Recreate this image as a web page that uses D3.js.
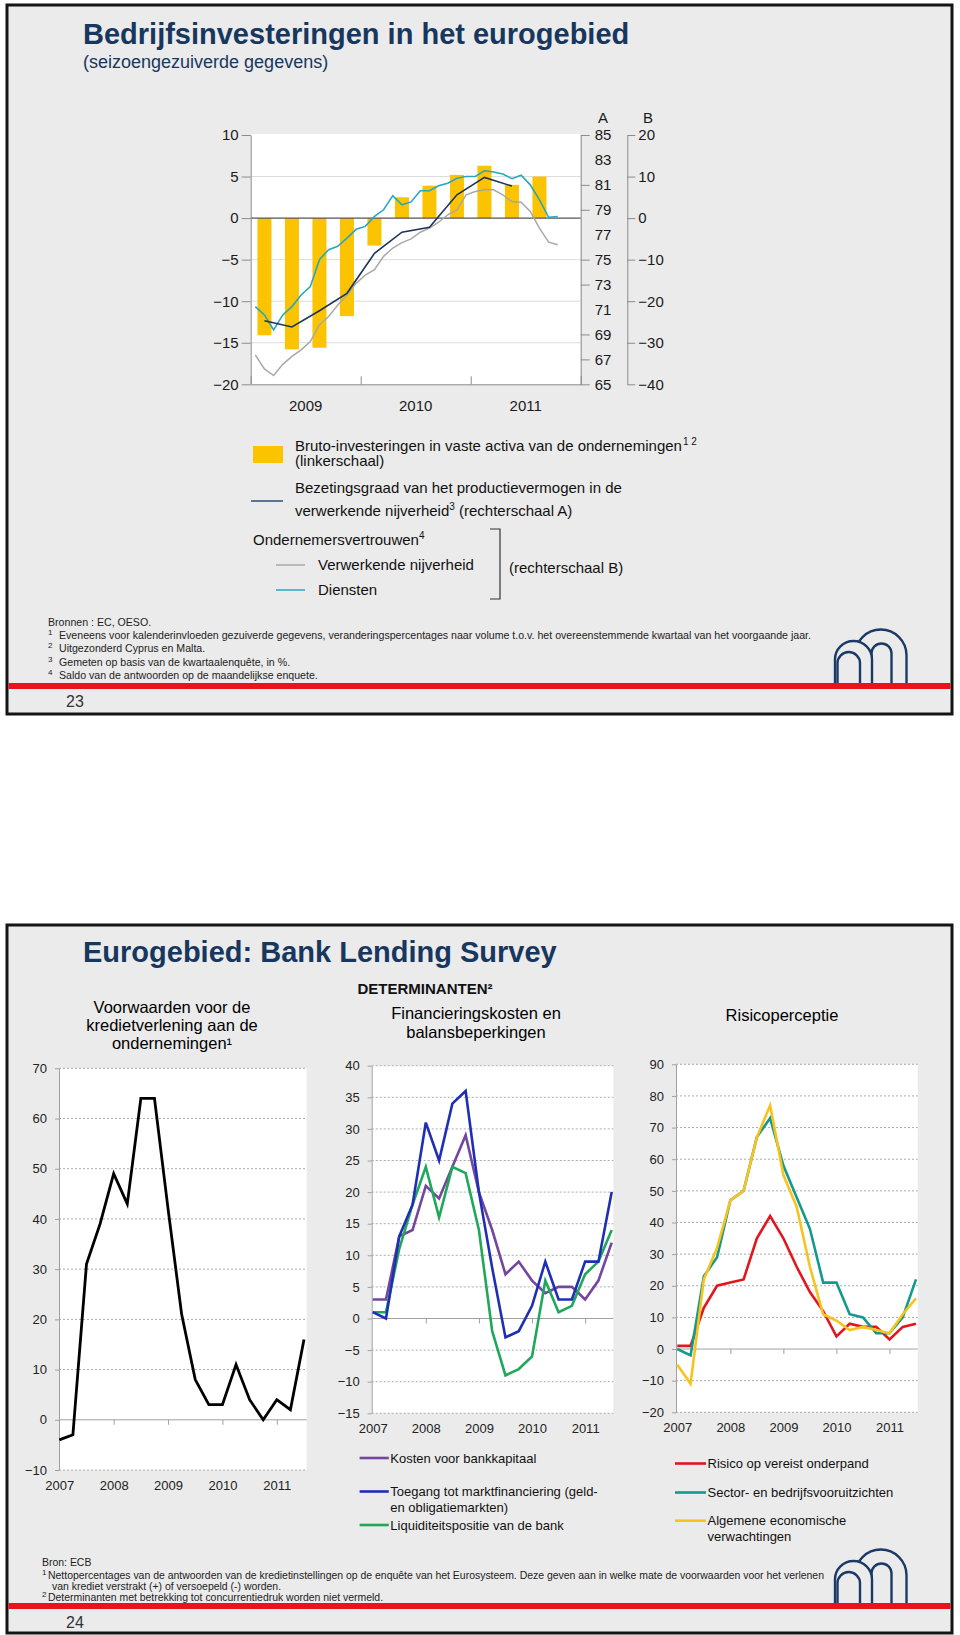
<!DOCTYPE html>
<html><head><meta charset="utf-8">
<script src="https://cdn.jsdelivr.net/npm/d3@7/dist/d3.min.js"></script>
<style>
html,body{margin:0;padding:0;background:#fff;}
svg{display:block;}
text{font-family:"Liberation Sans",Arial,Helvetica,sans-serif;}
</style></head><body>
<svg id="chart" width="960" height="1635"></svg>
<script>
// ---------------- DATA ----------------
const topQuarters = ["2009Q1","2009Q2","2009Q3","2009Q4","2010Q1","2010Q2","2010Q3","2010Q4","2011Q1","2011Q2","2011Q3","2011Q4"];
const topYears = ["2009","2010","2011"];
const investmentGrowth = [-14.1,-15.8,-15.6,-11.8,-3.3,2.5,3.9,5.2,6.3,4.0,5.0];
const capacityUtilisation = [70.1,69.6,70.9,72.3,75.5,77.2,77.6,80.2,81.6,80.9];
const confidenceIndustry = [-32.9,-36.3,-37.9,-35.2,-33.3,-31.7,-29.7,-25.7,-23.7,-20.9,-18.5,-15.7,-13.7,-12.4,-9.2,-7.2,-5.9,-5.0,-3.4,-2.4,-1.0,0.8,2.0,5.6,6.4,6.8,6.8,5.6,4.0,3.8,1.6,-2.4,-5.8,-6.4];
const confidenceServices = [-21.3,-23.3,-26.9,-23.3,-21.3,-18.5,-16.5,-10.0,-7.6,-6.8,-4.8,-2.7,-2.0,0.4,2.0,5.4,3.2,3.9,6.6,6.6,7.8,8.4,9.6,10.0,10.0,11.4,11.1,10.6,9.5,10.3,8.0,4.4,0.2,0.4];
const leftScaleTicks = [10,5,0,-5,-10,-15,-20];
const scaleATicks = [85,83,81,79,77,75,73,71,69,67,65];
const scaleAMarks = [85,81,79,75,73,69,67,65];
const scaleBTicks = [20,10,0,-10,-20,-30,-40];

const blsQuarters = ["2007Q1","2007Q2","2007Q3","2007Q4","2008Q1","2008Q2","2008Q3","2008Q4","2009Q1","2009Q2","2009Q3","2009Q4","2010Q1","2010Q2","2010Q3","2010Q4","2011Q1","2011Q2","2011Q3"];
const blsYears = ["2007","2008","2009","2010","2011"];
const creditStandards = [-4,-3,31,39,49,43,64,64,42,21,8,3,3,11,4,0,4,2,16];
const costOfCapital = [3,3,13,14,21,19,24,29,20,14,7,9,6,4,5,5,3,6,12];
const marketAccess = [1,0,13,18,31,25,34,36,20,8,-3,-2,2,9,3,3,9,9,20];
const liquidityPosition = [1,1,11,18,24,16,24,23,14,-2,-9,-8,-6,6,1,2,7,9,14];
const collateralRisk = [1,1,13,20,21,22,35,42,35,26,18,12,4,8,7,7,3,7,8];
const sectorOutlook = [0,-2,23,29,47,50,67,73,58,48,38,21,21,11,10,5,5,10,22];
const economicExpectations = [-5,-11,22,32,47,50,67,77,55,45,26,11,9,6,7,6,5,11,16];
const leftPanelTicks = [70,60,50,40,30,20,10,0,-10];
const midPanelTicks = [40,35,30,25,20,15,10,5,0,-5,-10,-15];
const rightPanelTicks = [90,80,70,60,50,40,30,20,10,0,-10,-20];

// ---------------- DRAWING ----------------
const svg = d3.select("#chart");
const BG = "#ebebeb", NAVY = "#17375e";

function slide(y0, h){
  svg.append("rect").attr("x",7).attr("y",y0).attr("width",945).attr("height",h)
    .attr("fill",BG).attr("stroke","#141414").attr("stroke-width",3);
}
slide(5,709); slide(925,708);

function logo(dy){
  const g = svg.append("g").attr("transform",`translate(0,${dy})`)
    .attr("fill",BG).attr("stroke","#1c3a66").attr("stroke-width",2.4);
  const arch = (l,r,tp,bot)=>{const rad=(r-l)/2;return `M${l},${bot}V${tp+rad}A${rad},${rad} 0 0 1 ${r},${tp+rad}V${bot}`;};
  g.append("path").attr("d",arch(855,906.5,629.5,683));
  g.append("path").attr("d",arch(871.5,891.5,643.5,683));
  g.append("path").attr("d",arch(835,872,641,683));
  g.append("path").attr("d",arch(837.5,860,652,683));
}
logo(0); logo(920);

svg.append("rect").attr("x",8.5).attr("y",683).attr("width",942).attr("height",6).attr("fill","#e8141b");
svg.append("rect").attr("x",8.5).attr("y",1603).attr("width",942).attr("height",6).attr("fill","#e8141b");
svg.append("text").attr("x",66).attr("y",707).attr("font-size",16).attr("fill","#333").text("23");
svg.append("text").attr("x",66).attr("y",1628).attr("font-size",16).attr("fill","#333").text("24");

// ---- Top slide titles ----
svg.append("text").attr("x",83).attr("y",44).attr("font-size",29).attr("font-weight","bold").attr("fill",NAVY)
  .text("Bedrijfsinvesteringen in het eurogebied");
svg.append("text").attr("x",83).attr("y",68).attr("font-size",18).attr("fill",NAVY)
  .text("(seizoengezuiverde gegevens)");

// ---- Top chart ----
const TX0=250.7, TX1=580.7, TY0=135, TY1=384.3;
const xm = d3.scaleLinear().domain([0,36]).range([TX0,TX1]);
const xq = d3.scaleBand().domain(topQuarters).range([TX0,TX1]).paddingInner(0.49).paddingOuter(0.245);
const xYear = d3.scaleBand().domain(topYears).range([TX0,TX1]);
const yL = d3.scaleLinear().domain([-20,10]).range([TY1,TY0]);
const yA = d3.scaleLinear().domain([65,85]).range([TY1,TY0]);
const yB = d3.scaleLinear().domain([-40,20]).range([TY1,TY0]);

const tc = svg.append("g");
tc.append("rect").attr("x",TX0).attr("y",TY0-1).attr("width",TX1-TX0).attr("height",TY1-TY0+1).attr("fill","#fff");
tc.selectAll(".grid").data(leftScaleTicks.filter(d=>d!==0&&d!==-20&&d!==10)).join("line")
  .attr("x1",TX0).attr("x2",TX1).attr("y1",d=>yL(d)).attr("y2",d=>yL(d)).attr("stroke","#dcdcdc").attr("stroke-width",1);
tc.selectAll(".bar").data(investmentGrowth).join("rect")
  .attr("x",(d,i)=>xq(topQuarters[i])).attr("width",xq.bandwidth())
  .attr("y",d=>Math.min(yL(d),yL(0))).attr("height",d=>Math.abs(yL(d)-yL(0))).attr("fill","#fcc300");
tc.append("line").attr("x1",TX0).attr("x2",TX1).attr("y1",yL(0)).attr("y2",yL(0)).attr("stroke","#555").attr("stroke-width",1.2);
tc.append("path").datum(confidenceIndustry).attr("fill","none").attr("stroke","#a8a8a8").attr("stroke-width",1.5)
  .attr("d",d3.line().x((d,i)=>xm(i+0.5)).y(d=>yB(d)));
tc.append("path").datum(confidenceServices).attr("fill","none").attr("stroke","#2aa6bd").attr("stroke-width",1.6)
  .attr("d",d3.line().x((d,i)=>xm(i+0.5)).y(d=>yB(d)));
tc.append("path").datum(capacityUtilisation).attr("fill","none").attr("stroke","#1d3457").attr("stroke-width",1.6)
  .attr("d",d3.line().x((d,i)=>xm(i*3+1.5)).y(d=>yA(d)));

function styleAxis(g, fs){
  g.select(".domain").attr("stroke","#8c8c8c");
  g.selectAll(".tick line").attr("stroke","#8c8c8c");
  g.selectAll("text").attr("font-size",fs).attr("fill","#1a1a1a").attr("font-family",'"Liberation Sans",Arial,sans-serif');
}
const axL = tc.append("g").attr("transform",`translate(${TX0},0)`)
  .call(d3.axisLeft(yL).tickValues(leftScaleTicks).tickSize(9).tickSizeOuter(0).tickPadding(3));
styleAxis(axL,15);
const axAm = tc.append("g").attr("transform",`translate(${TX1},0)`)
  .call(d3.axisRight(yA).tickValues(scaleAMarks).tickSize(9).tickSizeOuter(0).tickFormat(""));
styleAxis(axAm,15);
const axA = tc.append("g").attr("transform",`translate(${TX1},0)`)
  .call(d3.axisRight(yA).tickValues(scaleATicks).tickSize(0).tickSizeOuter(0).tickPadding(14));
styleAxis(axA,15); axA.select(".domain").remove();
const BX = 627.3;
const axB = tc.append("g").attr("transform",`translate(${BX},0)`)
  .call(d3.axisRight(yB).tickValues(scaleBTicks).tickSize(8).tickSizeOuter(0).tickPadding(3));
styleAxis(axB,15);
tc.append("text").attr("x",603).attr("y",123).attr("text-anchor","middle").attr("font-size",15).attr("fill","#1a1a1a").text("A");
tc.append("text").attr("x",648).attr("y",123).attr("text-anchor","middle").attr("font-size",15).attr("fill","#1a1a1a").text("B");
const axX = tc.append("g").attr("transform",`translate(0,${TY1})`)
  .call(d3.axisTop(xm).tickValues([0,12,24,36]).tickSize(8).tickSizeOuter(0).tickFormat(""));
styleAxis(axX,15);
const axXl = tc.append("g").attr("transform",`translate(0,${TY1})`)
  .call(d3.axisBottom(xYear).tickSize(0));
styleAxis(axXl,15); axXl.select(".domain").remove();
axXl.selectAll("text").attr("y",27).attr("dy",0);

// ---- Top legend ----
const lg = svg.append("g").attr("font-size",15).attr("fill","#111");
lg.append("rect").attr("x",253).attr("y",446).attr("width",30).attr("height",17).attr("fill","#fcc300");
let t = lg.append("text").attr("x",295).attr("y",451);
t.append("tspan").text("Bruto-investeringen in vaste activa van de ondernemingen");
t.append("tspan").attr("font-size",10).attr("dy",-6).attr("dx",1).text("1 2");
lg.append("text").attr("x",295).attr("y",466).text("(linkerschaal)");
lg.append("line").attr("x1",251).attr("x2",283).attr("y1",501).attr("y2",501).attr("stroke","#2b4c7e").attr("stroke-width",1.5);
lg.append("text").attr("x",295).attr("y",493).text("Bezetingsgraad van het productievermogen in de");
t = lg.append("text").attr("x",295).attr("y",516);
t.append("tspan").text("verwerkende nijverheid");
t.append("tspan").attr("font-size",10).attr("dy",-6).text("3");
t.append("tspan").attr("dy",6).text(" (rechterschaal A)");
t = lg.append("text").attr("x",253).attr("y",545);
t.append("tspan").text("Ondernemersvertrouwen");
t.append("tspan").attr("font-size",10).attr("dy",-6).text("4");
lg.append("line").attr("x1",276).attr("x2",305).attr("y1",565).attr("y2",565).attr("stroke","#a8a8a8").attr("stroke-width",1.5);
lg.append("text").attr("x",318).attr("y",570).text("Verwerkende nijverheid");
lg.append("line").attr("x1",276).attr("x2",305).attr("y1",590).attr("y2",590).attr("stroke","#2aa6bd").attr("stroke-width",1.5);
lg.append("text").attr("x",318).attr("y",595).text("Diensten");
lg.append("path").attr("d","M490,529H500V599H490").attr("fill","none").attr("stroke","#333").attr("stroke-width",1.2);
lg.append("text").attr("x",509).attr("y",573).text("(rechterschaal B)");

// ---- Footnotes ----
function footnotes(lines, refIndex, refWidth){
  const nodes = lines.map(l=>{
    if(l.sup){
      svg.append("text").attr("x",l.sx).attr("y",l.y-4).attr("font-size",8).attr("fill","#222").text(l.sup);
    }
    return svg.append("text").attr("x",l.x).attr("y",l.y).attr("font-size",11).attr("fill","#222").text(l.text);
  });
  const k = refWidth / nodes[refIndex].node().getComputedTextLength();
  nodes.forEach(n=>{
    const w = n.node().getComputedTextLength();
    n.attr("textLength",w*k).attr("lengthAdjust","spacingAndGlyphs");
  });
}
footnotes([
  {x:48,y:626,text:"Bronnen : EC, OESO."},
  {x:59,y:639,sx:48,sup:"1",text:"Eveneens voor kalenderinvloeden gezuiverde gegevens, veranderingspercentages naar volume t.o.v. het overeenstemmende kwartaal van het voorgaande jaar."},
  {x:59,y:652,sx:48,sup:"2",text:"Uitgezonderd Cyprus en Malta."},
  {x:59,y:666,sx:48,sup:"3",text:"Gemeten op basis van de kwartaalenquête, in %."},
  {x:59,y:679,sx:48,sup:"4",text:"Saldo van de antwoorden op de maandelijkse enquete."}
],1,752);
footnotes([
  {x:42,y:1566,text:"Bron: ECB"},
  {x:48,y:1578.5,sx:42,sup:"1",text:"Nettopercentages van de antwoorden van de kredietinstellingen op de enquête van het Eurosysteem. Deze geven aan in welke mate de voorwaarden voor het verlenen"},
  {x:52,y:1590,text:"van krediet verstrakt (+) of versoepeld (-) worden."},
  {x:48,y:1601,sx:42,sup:"2",text:"Determinanten met betrekking tot concurrentiedruk worden niet vermeld."}
],1,776);

// ---- Bottom slide titles ----
svg.append("text").attr("x",83).attr("y",962).attr("font-size",29).attr("font-weight","bold").attr("fill",NAVY)
  .text("Eurogebied: Bank Lending Survey");
svg.append("text").attr("x",357.5).attr("y",994).attr("font-size",15).attr("font-weight","bold").attr("fill","#111")
  .text("DETERMINANTEN²");
function ctext(x,y,s){svg.append("text").attr("x",x).attr("y",y).attr("text-anchor","middle").attr("font-size",16.5).attr("fill","#000").text(s);}
ctext(172,1012.5,"Voorwaarden voor de");
ctext(172,1031,"kredietverlening aan de");
ctext(172,1049,"ondernemingen¹");
ctext(476,1018.5,"Financieringskosten en");
ctext(476,1037.5,"balansbeperkingen");
ctext(782,1020.5,"Risicoperceptie");

// ---- Bottom panels ----
function panel(o){
  const g = svg.append("g");
  const x = d3.scalePoint().domain(blsQuarters).range([o.p0,o.p1]);
  const y = d3.scaleLinear().domain(o.dom).range([o.yb,o.yt]);
  g.append("rect").attr("x",o.ax).attr("y",o.yt).attr("width",o.right-o.ax).attr("height",o.yb-o.yt).attr("fill","#fff");
  g.selectAll(".grid").data(o.ticks.filter(d=>d!==0)).join("line")
    .attr("x1",o.ax).attr("x2",o.right).attr("y1",d=>y(d)).attr("y2",d=>y(d))
    .attr("stroke","#ababab").attr("stroke-width",1).attr("stroke-dasharray","2,2");
  const yAx = g.append("g").attr("transform",`translate(${o.ax},0)`)
    .call(d3.axisLeft(y).tickValues(o.ticks).tickSize(4).tickSizeOuter(0).tickPadding(8));
  styleAxis(yAx,13); yAx.select(".domain").attr("stroke","#a0a0a0"); yAx.selectAll(".tick line").attr("stroke","#a0a0a0");
  yAx.selectAll("text").attr("fill","#222");
  const zAx = g.append("g").attr("transform",`translate(0,${y(0)})`)
    .call(d3.axisBottom(x).tickValues(["2008Q1","2009Q1","2010Q1","2011Q1"]).tickSize(5).tickSizeOuter(0).tickFormat(""));
  zAx.select(".domain").attr("d",`M${o.ax},0H${o.right}`).attr("stroke","#a0a0a0");
  zAx.selectAll(".tick line").attr("stroke","#a0a0a0");
  const xAx = g.append("g").attr("transform",`translate(0,${o.yb})`)
    .call(d3.axisBottom(x).tickValues(["2007Q1","2008Q1","2009Q1","2010Q1","2011Q1"]).tickSize(0).tickFormat(d=>d.slice(0,4)));
  xAx.select(".domain").remove();
  styleAxis(xAx,13); xAx.selectAll("text").attr("y",20).attr("dy",0).attr("fill","#222");
  o.series.forEach(s=>{
    g.append("path").datum(s.values).attr("fill","none").attr("stroke",s.color).attr("stroke-width",s.w||2.6)
      .attr("stroke-linejoin","miter").attr("d",d3.line().x((d,i)=>x(blsQuarters[i])).y(d=>y(d)));
  });
}
panel({ax:59,right:306.7,p0:59.3,p1:304,yt:1068.3,yb:1470,dom:[-10,70],ticks:leftPanelTicks,
  series:[{values:creditStandards,color:"#000",w:2.8}]});
panel({ax:371.7,right:613.3,p0:372.7,p1:611.7,yt:1065.7,yb:1413.3,dom:[-15,40],ticks:midPanelTicks,
  series:[{values:costOfCapital,color:"#7346a0"},{values:liquidityPosition,color:"#1fa85a"},{values:marketAccess,color:"#1f2fb4"}]});
panel({ax:676,right:917.7,p0:677.3,p1:916,yt:1064.3,yb:1412.3,dom:[-20,90],ticks:rightPanelTicks,
  series:[{values:collateralRisk,color:"#e3151d"},{values:sectorOutlook,color:"#13998f"},{values:economicExpectations,color:"#f7c31c"}]});

// ---- Bottom legends ----
const bl = svg.append("g").attr("font-size",13).attr("fill","#111");
function lgItem(x1,x2,y,color,lines){
  bl.append("line").attr("x1",x1).attr("x2",x2).attr("y1",y).attr("y2",y).attr("stroke",color).attr("stroke-width",2.6);
  lines.forEach((s,i)=>bl.append("text").attr("x",x2+1.5).attr("y",y+4.5+i*15.5).text(s));
}
lgItem(359.6,388.8,1458,"#7346a0",["Kosten voor bankkapitaal"]);
lgItem(359.6,388.8,1491.5,"#1f2fb4",["Toegang tot marktfinanciering (geld-","en obligatiemarkten)"]);
lgItem(359.6,388.8,1525,"#1fa85a",["Liquiditeitspositie van de bank"]);
lgItem(675,706,1463.5,"#e3151d",["Risico op vereist onderpand"]);
lgItem(675,706,1492.5,"#13998f",["Sector- en bedrijfsvooruitzichten"]);
lgItem(675,706,1520.7,"#f7c31c",["Algemene economische","verwachtingen"]);
</script></body></html>
